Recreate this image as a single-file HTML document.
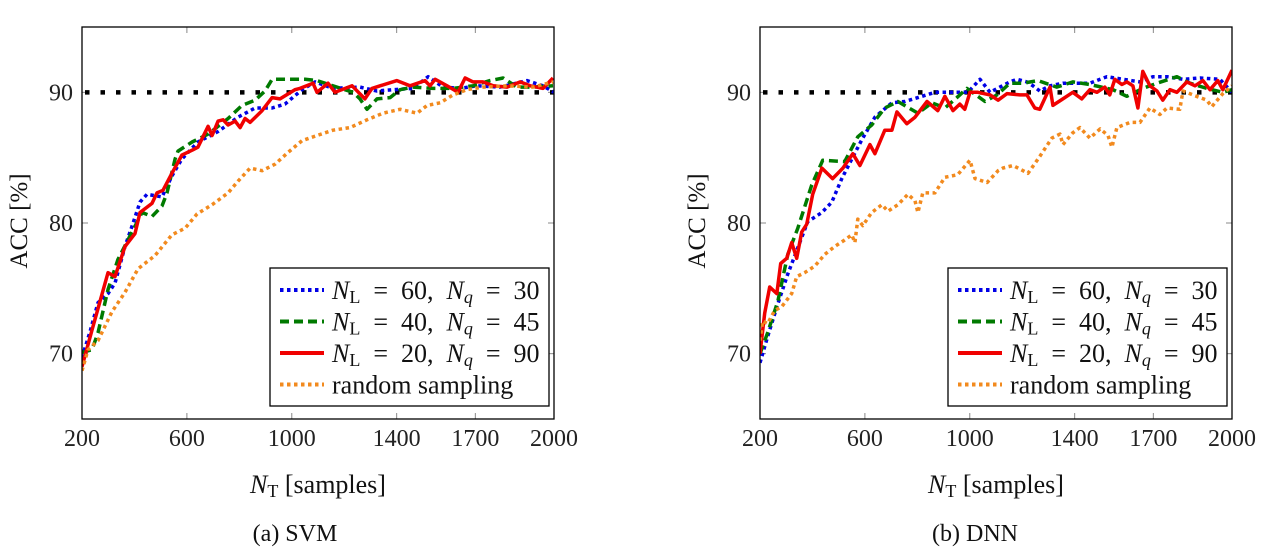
<!DOCTYPE html>
<html><head><meta charset="utf-8">
<style>
html,body{margin:0;padding:0;background:#fff;}
svg{display:block;font-family:"Liberation Serif",serif;}
</style></head>
<body>
<svg id="fig" width="1264" height="551" viewBox="0 0 1264 551" xmlns="http://www.w3.org/2000/svg"></svg>
<script>
// ---- data: SVM ----
const svmBlueX=[200,231,261,299,326,364,395,421,448,505,543,581,642,719,795,860,925,974,1039,1089,1157,1260,1325,1386,1462,1520,1577,1642,1707,1794,1897,1958,2000];
const svmBlueY=[69.7,71.7,73.9,74.6,75.4,78.2,80.0,81.6,82.2,82.0,83.6,84.9,86.2,87.0,88.1,88.8,88.8,89.1,90.2,90.8,90.3,90.4,90.1,90.2,90.3,91.2,90.4,90.3,90.5,90.4,90.9,90.5,90.0];
const svmGreenX=[200,238,261,299,337,375,429,467,505,524,555,566,620,681,757,810,860,898,925,1051,1096,1157,1234,1260,1287,1325,1375,1413,1462,1539,1615,1691,1756,1806,1859,1920,1996];
const svmGreenY=[70.1,70.3,71.6,74.9,77.2,78.7,80.8,80.5,81.3,82.3,84.9,85.5,86.2,86.8,88.0,89.0,89.4,90.1,91.0,91.0,90.9,90.5,90.0,89.5,88.7,89.5,89.6,90.2,90.4,90.3,90.3,90.5,90.9,91.1,90.4,90.4,90.5];
const svmRedX=[200,238,299,326,364,402,421,467,486,509,543,581,623,642,681,696,719,738,757,784,803,822,841,887,925,955,1012,1031,1081,1096,1138,1165,1230,1279,1306,1337,1401,1451,1508,1527,1547,1592,1634,1661,1691,1729,1768,1821,1871,1909,1958,1996];
const svmRedY=[69.0,71.8,76.2,75.9,78.2,79.2,80.8,81.5,82.3,82.5,83.8,85.2,85.6,85.8,87.4,86.7,87.8,87.9,87.5,87.8,87.3,88.0,87.7,88.6,89.6,89.5,90.2,90.3,90.7,90.0,90.7,90.0,90.5,89.5,90.3,90.5,90.9,90.5,90.9,90.5,91.0,90.5,90.0,91.1,90.8,90.8,90.5,90.4,90.8,90.5,90.3,91.1];
const svmOrangeX=[200,223,261,314,364,414,478,543,593,639,696,757,795,841,887,936,986,1039,1096,1157,1222,1287,1348,1413,1478,1516,1566,1615,1668,1729,1821,1920,1996];
const svmOrangeY=[68.7,70.3,71.0,73.2,74.7,76.5,77.5,79.1,79.6,80.7,81.4,82.3,83.2,84.2,84.0,84.5,85.4,86.3,86.7,87.1,87.3,87.9,88.4,88.7,88.4,89.0,89.2,89.8,90.2,90.4,90.5,90.4,90.8];
// ---- data: DNN ----
const dnnBlueX=[200,229,268,306,344,382,436,474,512,550,589,638,703,753,802,867,932,993,1039,1077,1115,1153,1180,1218,1241,1267,1306,1355,1409,1458,1523,1584,1649,1698,1752,1813,1878,1954,2000];
const dnnBlueY=[69.3,71.3,73.8,76.1,78.1,80.1,80.8,81.6,83.4,84.9,86.4,88.1,89.2,89.3,89.6,90.0,90.0,90.0,91.0,90.0,90.4,90.8,91.0,90.8,90.5,90.1,90.5,90.7,90.7,90.7,91.2,91.0,90.8,91.2,91.2,91.0,91.1,91.0,90.0];
const dnnGreenX=[200,229,268,306,344,397,439,523,573,626,676,726,802,856,905,951,989,1058,1104,1153,1203,1260,1332,1393,1458,1546,1599,1660,1714,1790,1840,1904,1965,2000];
const dnnGreenY=[70.0,71.6,74.0,77.6,79.6,82.9,84.8,84.7,86.6,87.5,88.8,89.3,88.4,89.2,88.8,89.6,90.3,89.3,89.8,90.7,90.7,90.9,90.4,90.8,90.6,90.2,89.7,90.3,90.7,91.2,90.7,90.3,90.0,90.2];
const dnnRedX=[200,218,237,264,279,302,321,340,359,378,401,436,477,516,554,581,619,638,676,703,722,760,791,837,878,905,936,962,981,1001,1031,1077,1108,1142,1191,1218,1248,1267,1306,1317,1355,1393,1427,1458,1485,1515,1534,1553,1580,1599,1622,1641,1660,1687,1714,1736,1763,1790,1828,1859,1889,1916,1946,1965,2000];
const dnnRedY=[70.0,73.1,75.1,74.6,76.9,77.3,78.5,77.3,79.3,79.9,82.2,84.2,83.4,84.2,85.3,84.4,86.0,85.3,87.1,87.1,88.5,87.6,88.1,89.3,88.6,89.7,88.6,89.1,88.7,90.0,90.0,89.8,89.4,89.9,89.8,89.8,88.8,88.7,90.4,89.0,89.5,90.0,89.5,90.2,90.0,90.4,89.8,91.0,90.6,90.8,90.5,88.8,91.6,90.5,90.1,89.4,90.2,90.0,90.8,90.5,90.9,90.2,90.9,90.2,91.7];
const dnnOrangeX=[200,210,229,256,283,321,340,370,409,447,485,523,550,562,573,592,626,665,688,726,764,791,802,821,867,905,954,1001,1020,1066,1108,1126,1165,1222,1267,1313,1344,1355,1393,1420,1458,1497,1527,1542,1561,1611,1649,1687,1725,1752,1801,1813,1851,1904,1923,1965,2000];
const dnnOrangeY=[71.0,72.5,72.3,73.3,73.6,74.6,75.9,76.2,76.7,77.6,78.2,78.7,79.1,78.5,80.3,79.8,80.8,81.4,80.9,81.4,82.2,81.7,80.8,82.3,82.3,83.5,83.7,84.8,83.4,83.1,84.0,84.2,84.4,83.8,85.1,86.5,86.8,86.0,86.9,87.3,86.5,87.2,86.7,85.8,87.3,87.7,87.7,88.8,88.3,88.8,88.7,90.1,89.8,89.4,88.9,89.9,90.5];
const xTicks=[200,600,1000,1400,1700,2000];
const yTicks=[70,80,90];
const refLevel=90;

const NS="http://www.w3.org/2000/svg";
const svg=document.getElementById('fig');
function mk(tag,attrs,parent){const e=document.createElementNS(NS,tag);for(const k in attrs)e.setAttribute(k,attrs[k]);(parent||svg).appendChild(e);return e;}

function panel(pfx,left,right,series,caption,capX){
  const top=27,bottom=419;
  const xs=v=>left+(v-200)/1800*(right-left);
  const ys=v=>top+(95-v)/30*(bottom-top);
  const g=mk('g',{});
  
  
  xTicks.forEach(t=>{
    if(t>200&&t<2000){
      const a=mk('line',{x1:xs(t),x2:xs(t),y1:bottom,y2:bottom-6,stroke:'#888','stroke-width':1},g);
      
      const b=mk('line',{x1:xs(t),x2:xs(t),y1:top,y2:top+6,stroke:'#888','stroke-width':1},g);
      
    }
    const l=mk('text',{x:xs(t),y:446,'text-anchor':'middle','font-size':24,fill:'#222'},g);
    l.textContent=t;
    
  });
  yTicks.forEach(t=>{
    const a=mk('line',{x1:left,x2:left+6,y1:ys(t),y2:ys(t),stroke:'#888','stroke-width':1},g);
    
    const b=mk('line',{x1:right,x2:right-6,y1:ys(t),y2:ys(t),stroke:'#888','stroke-width':1},g);
    
    const l=mk('text',{x:left-9,y:ys(t)+8,'text-anchor':'end','font-size':24,fill:'#222'},g);
    l.textContent=t;
    
  });
  const clip=mk('clipPath',{id:pfx+'clip'},g);
  mk('rect',{x:left,y:top,width:right-left,height:bottom-top},clip);
  const ref=mk('line',{x1:xs(200)+3,x2:xs(2000),y1:ys(refLevel),y2:ys(refLevel),stroke:'#000','stroke-width':4.5,'stroke-dasharray':'4.5 11'},g);
  
  series.forEach(s=>{
    const d=s.x.map((v,i)=>(i?'L':'M')+xs(v).toFixed(1)+' '+ys(s.y[i]).toFixed(1)).join(' ');
    const p=mk('path',{d:d,fill:'none',stroke:s.c,'stroke-width':s.w,'stroke-dasharray':s.da,'stroke-linejoin':'round','clip-path':'url(#'+pfx+'clip)'},g);
    
  });
  const fr=mk('rect',{x:left,y:top,width:right-left,height:bottom-top,fill:'none',stroke:'#000','stroke-width':1.3},g);
  
  const lx=right-284,ly=268;
  const lg=mk('g',{},g);
  
  mk('rect',{x:lx,y:ly,width:279,height:138,fill:'#fff',stroke:'#000','stroke-width':1.3},lg);
  const labels=[['60','30'],['40','45'],['20','90'],null];
  series.forEach((s,i)=>{
    const yy=ly+22+i*31.5;
    const e=mk('g',{},lg);
    
    mk('line',{x1:lx+10,x2:lx+54,y1:yy,y2:yy,stroke:s.c,'stroke-width':s.w+0.5,'stroke-dasharray':s.da},e);
    const t=mk('text',{x:lx+62,y:yy+9,'font-size':26,fill:'#111'},e);
    if(labels[i]){
      t.innerHTML='<tspan font-style="italic">N</tspan><tspan font-size="18" dy="4">L</tspan><tspan dy="-4">\u2002=\u2002'+labels[i][0]+',\u2002</tspan><tspan font-style="italic">N</tspan><tspan font-style="italic" font-size="18" dy="4">q</tspan><tspan dy="-4">\u2002=\u2002'+labels[i][1]+'</tspan>';
    } else t.textContent='random sampling';
  });
  const yl=mk('text',{x:0,y:0,'font-size':25,'text-anchor':'middle',fill:'#111',transform:'translate('+(left-55)+' 221) rotate(-90)'},g);
  yl.textContent='ACC [%]';
  
  const xl=mk('text',{x:(left+right)/2,y:493,'font-size':26,'text-anchor':'middle',fill:'#111'},g);
  xl.innerHTML='<tspan font-style="italic">N</tspan><tspan font-size="18" dy="4">T</tspan><tspan dy="-4"> [samples]</tspan>';
  
  const cp=mk('text',{x:capX,y:541,'font-size':24,'text-anchor':'middle',fill:'#111'},g);
  cp.textContent=caption;
  
}
const st=(c,w,da,name)=>({c,w,da,name});
panel('svm',82,554,[
  Object.assign(st('#0000e6',3.5,'3.5 3.5','series-nl60-nq30'),{x:svmBlueX,y:svmBlueY}),
  Object.assign(st('#007a00',3.5,'9 5','series-nl40-nq45'),{x:svmGreenX,y:svmGreenY}),
  Object.assign(st('#f00000',3.5,'none','series-nl20-nq90'),{x:svmRedX,y:svmRedY}),
  Object.assign(st('#f28a1e',3.5,'3.5 3.5','series-random-sampling'),{x:svmOrangeX,y:svmOrangeY})
],'(a) SVM',295);
panel('dnn',760,1232,[
  Object.assign(st('#0000e6',3.5,'3.5 3.5','series-nl60-nq30'),{x:dnnBlueX,y:dnnBlueY}),
  Object.assign(st('#007a00',3.5,'9 5','series-nl40-nq45'),{x:dnnGreenX,y:dnnGreenY}),
  Object.assign(st('#f00000',3.5,'none','series-nl20-nq90'),{x:dnnRedX,y:dnnRedY}),
  Object.assign(st('#f28a1e',3.5,'3.5 3.5','series-random-sampling'),{x:dnnOrangeX,y:dnnOrangeY})
],'(b) DNN',975);
</script>
</body></html>
